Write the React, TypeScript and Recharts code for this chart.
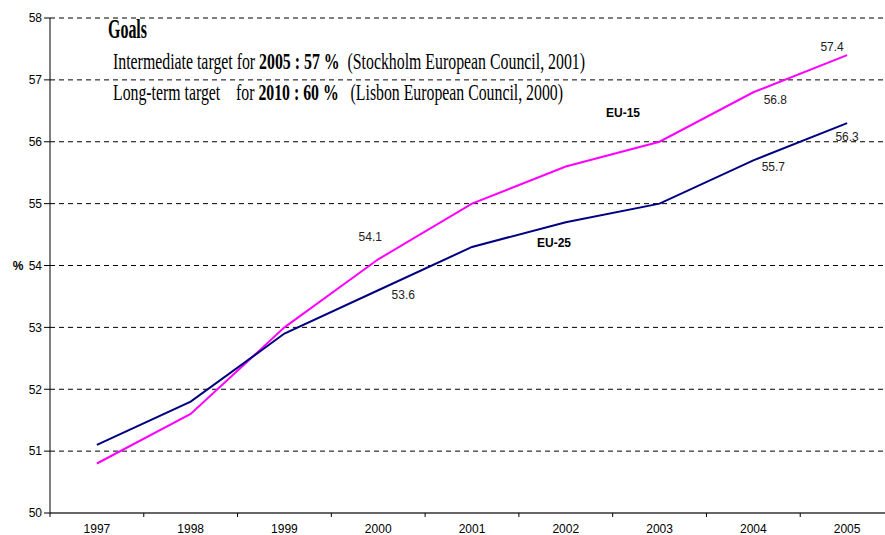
import { LineChart, Line, XAxis, YAxis, CartesianGrid, LabelList } from "recharts";

const years = [1997, 1998, 1999, 2000, 2001, 2002, 2003, 2004, 2005];
const eu15 = [50.8, 51.6, 53.0, 54.1, 55.0, 55.6, 56.0, 56.8, 57.4];
const eu25 = [51.1, 51.8, 52.9, 53.6, 54.3, 54.7, 55.0, 55.7, 56.3];
const yTicks = [50, 51, 52, 53, 54, 55, 56, 57, 58];

const data = years.map((year, i) => ({ year, eu15: eu15[i], eu25: eu25[i] }));

// which points carry a value label, and where the label sits relative to the point
const eu15LabelPos: Record<number, [number, number]> = {
  3: [-8, -22],
  7: [22, 8],
  8: [-15, -8],
};
const eu25LabelPos: Record<number, [number, number]> = {
  3: [25, 5],
  7: [20, 7],
  8: [0, 14],
};

const W = 905;
const H = 535;
const LEFT = 50;
const RIGHT = 11;
const XAXIS_H = 22;
const AXIS_Y = H - XAXIS_H;
const halfBand = (W - LEFT - RIGHT) / years.length / 2;

const font = "'Liberation Sans', Arial, sans-serif";
const serif = "'Liberation Serif', 'Times New Roman', serif";

const makeLabel = (pos: Record<number, [number, number]>) => (props: any) => {
  const { x, y, index, value } = props;
  const p = pos[index];
  if (!p) return null;
  return (
    <text
      x={x + p[0]}
      y={y + p[1]}
      textAnchor="middle"
      dominantBaseline="central"
      fontSize={12}
      fontFamily={font}
      fill="#222"
    >
      {Number(value).toFixed(1)}
    </text>
  );
};

const YearTick = (props: any) => {
  const { x, payload } = props;
  return (
    <g>
      <line x1={x - halfBand} x2={x - halfBand} y1={AXIS_Y} y2={AXIS_Y + 4} stroke="#000" />
      <text x={x} y={AXIS_Y + 20} textAnchor="middle" fontSize={12} fontFamily={font} fill="#000">
        {payload.value}
      </text>
    </g>
  );
};

export default function App() {
  return (
    <div
      style={{
        position: "fixed",
        top: 0,
        left: 0,
        width: 885,
        height: 535,
        overflow: "hidden",
        background: "#fff",
      }}
    >
      <LineChart width={W} height={H} data={data} margin={{ top: 18, right: RIGHT, bottom: 0, left: 0 }}>
        <CartesianGrid vertical={false} stroke="#000" strokeDasharray="5 4" />
        <XAxis
          dataKey="year"
          type="number"
          domain={[1996.5, 2005.5]}
          ticks={years}
          height={XAXIS_H}
          tickLine={false}
          axisLine={{ stroke: "#666", strokeWidth: 2 }}
          tick={<YearTick />}
        />
        <YAxis
          domain={[50, 58]}
          ticks={yTicks}
          width={LEFT}
          tickSize={6}
          axisLine={{ stroke: "#000" }}
          tickLine={{ stroke: "#000" }}
          tick={{ fontSize: 12, fill: "#000", fontFamily: font }}
        />
        <Line
          dataKey="eu15"
          stroke="#ff00ff"
          strokeWidth={2}
          dot={false}
          isAnimationActive={false}
        >
          <LabelList dataKey="eu15" content={makeLabel(eu15LabelPos)} />
        </Line>
        <Line
          dataKey="eu25"
          stroke="#000080"
          strokeWidth={2}
          dot={false}
          isAnimationActive={false}
        >
          <LabelList dataKey="eu25" content={makeLabel(eu25LabelPos)} />
        </Line>
      </LineChart>
      <svg
        width={885}
        height={535}
        style={{ position: "absolute", top: 0, left: 0, pointerEvents: "none" }}
      >
        <text x={108} y={38} fontFamily={serif} fontWeight="bold" fontSize={27} textLength={39} lengthAdjust="spacingAndGlyphs">
          Goals
        </text>
        <text
          x={113}
          y={69}
          fontFamily={serif}
          fontSize={23}
          textLength={472}
          lengthAdjust="spacingAndGlyphs"
          style={{ whiteSpace: "pre" }}
        >
          {"Intermediate target for "}
          <tspan fontWeight="bold">{"2005 : 57 %"}</tspan>
          {"  (Stockholm European Council, 2001)"}
        </text>
        <text
          x={113}
          y={100}
          fontFamily={serif}
          fontSize={23}
          textLength={450}
          lengthAdjust="spacingAndGlyphs"
          style={{ whiteSpace: "pre" }}
        >
          {"Long-term target    for "}
          <tspan fontWeight="bold">{"2010 : 60 %"}</tspan>
          {"   (Lisbon European Council, 2000)"}
        </text>
        <text x={623} y={113} textAnchor="middle" dominantBaseline="central" fontFamily={font} fontWeight="bold" fontSize={12}>
          EU-15
        </text>
        <text x={554} y={243} textAnchor="middle" dominantBaseline="central" fontFamily={font} fontWeight="bold" fontSize={12}>
          EU-25
        </text>
        <text x={18} y={266} textAnchor="middle" dominantBaseline="central" fontFamily={font} fontWeight="bold" fontSize={12}>
          %
        </text>
      </svg>
    </div>
  );
}
